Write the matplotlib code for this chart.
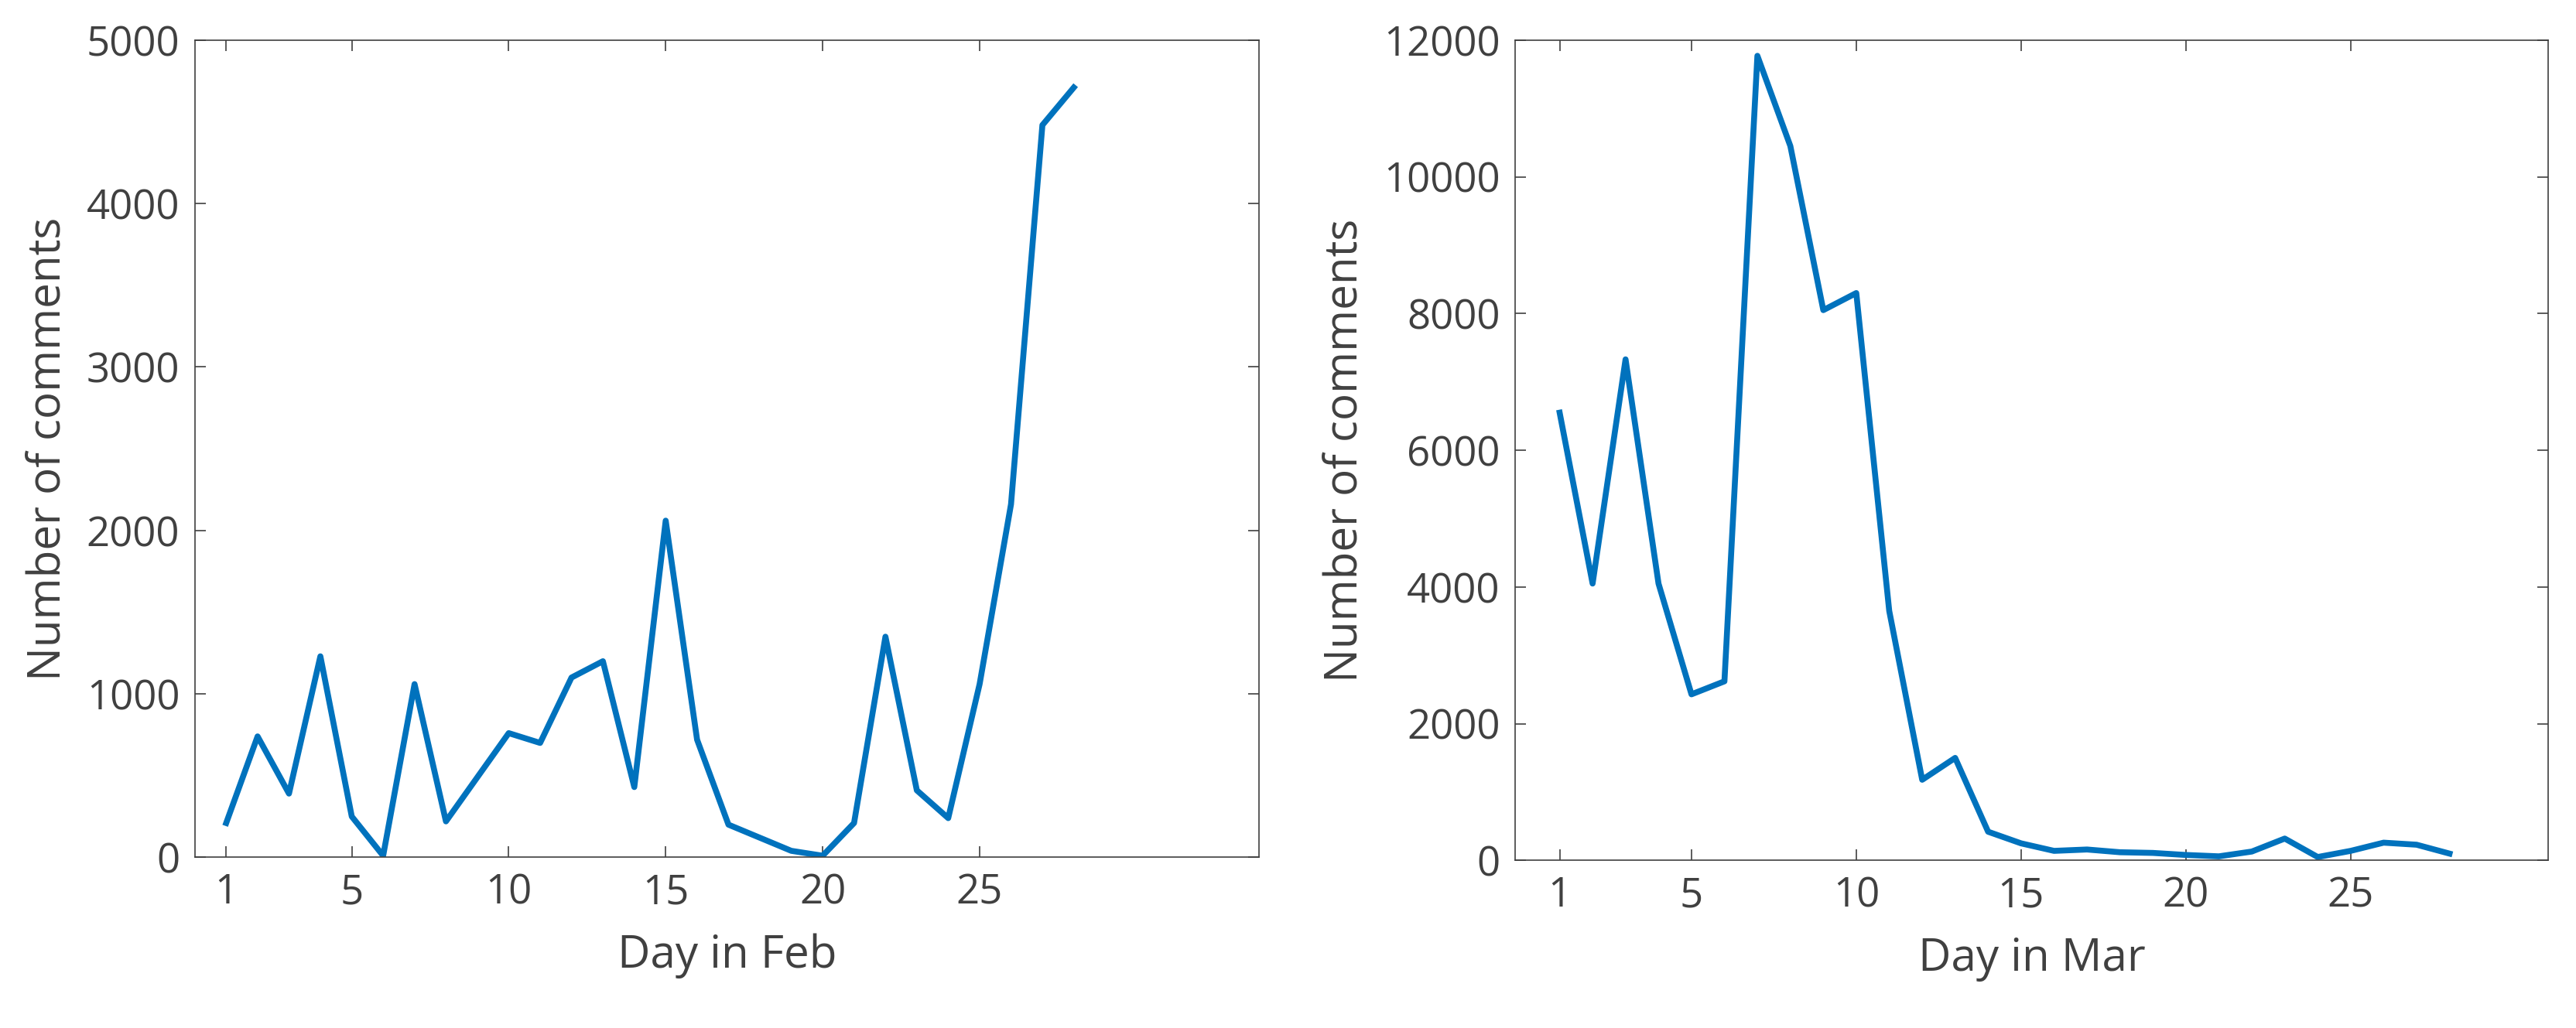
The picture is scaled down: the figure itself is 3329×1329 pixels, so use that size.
import matplotlib
matplotlib.use("Agg")
import matplotlib.pyplot as plt

days = list(range(1, 29))
feb_comments = [210, 740, 390, 1230, 250, 10, 1060, 220, 490, 760, 700, 1100, 1200, 430,
                2060, 720, 200, 120, 40, 10, 210, 1350, 410, 240, 1060, 2160, 4480, 4710]
mar_comments = [6550, 4050, 7330, 4050, 2430, 2620, 11770, 10450, 8050, 8300, 3650, 1180,
                1500, 420, 250, 140, 160, 120, 110, 80, 60, 130, 320, 50, 140, 260, 230, 100]
xticks = [1, 5, 10, 15, 20, 25]

plt.rcParams['font.family'] = ['Open Sans', 'DejaVu Sans']
fig = plt.figure(figsize=(33.3, 13.29), dpi=100)
ax1 = fig.add_axes([0.0756, 0.166, 0.413, 0.795])
ax2 = fig.add_axes([0.588, 0.163, 0.401, 0.798])

for ax, y, ymax, month, xl in [(ax1, feb_comments, 5000, "Feb", (0, 33.9)),
                               (ax2, mar_comments, 12000, "Mar", (-0.35, 31.0))]:
    ax.plot(days, y, color="#0072BD", linewidth=5.5)
    ax.set_xlim(*xl)
    ax.set_ylim(0, ymax)
    ax.set_xticks(xticks)
    ax.tick_params(direction="in", length=10, width=1.2, labelsize=38, colors="#404040",
                   top=True, right=True, pad=14)
    for s in ax.spines.values():
        s.set_color("#404040")
        s.set_linewidth(1.2)
    ax.set_xlabel("Day in " + month, fontsize=42, color="#404040", labelpad=18)
    ax.set_ylabel("Number of comments", fontsize=42, color="#404040", labelpad=14)

fig.savefig("out.png")
